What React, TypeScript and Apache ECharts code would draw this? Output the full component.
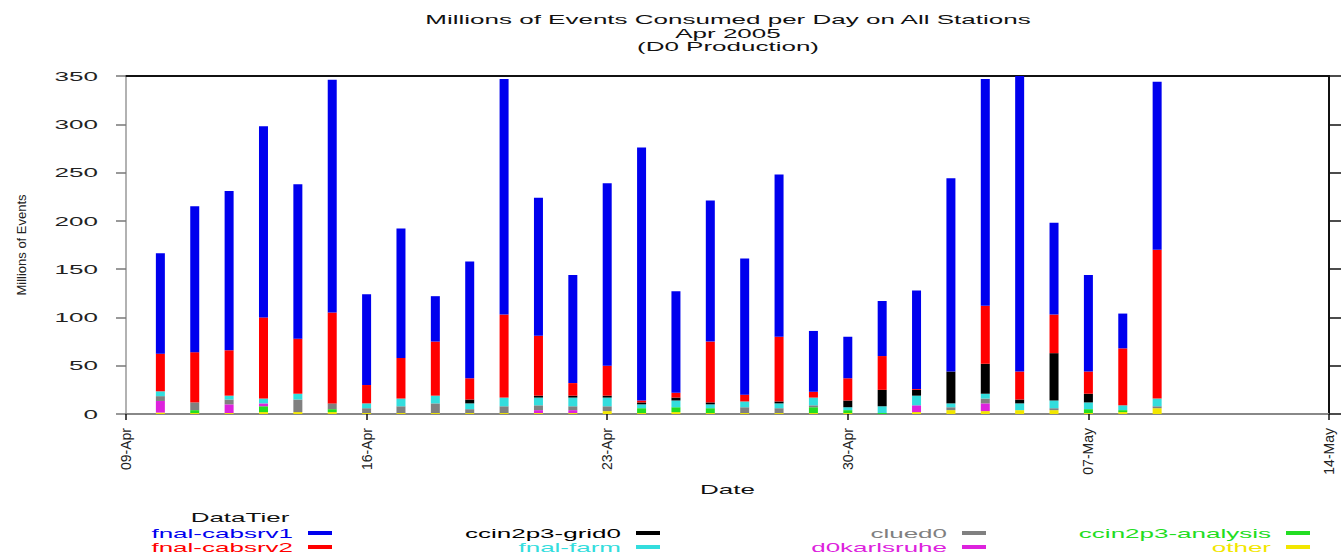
import React, { useEffect, useRef } from "react";
import * as echarts from "echarts";

const START_DATE = "2005-04-09";
const END_DATE = "2005-05-14";
const tickLabels = ["09-Apr", "16-Apr", "23-Apr", "30-Apr", "07-May", "14-May"];
const dates = [
  "2005-04-10", "2005-04-11", "2005-04-12", "2005-04-13", "2005-04-14", "2005-04-15",
  "2005-04-16", "2005-04-17", "2005-04-18", "2005-04-19", "2005-04-20", "2005-04-21",
  "2005-04-22", "2005-04-23", "2005-04-24", "2005-04-25", "2005-04-26", "2005-04-27",
  "2005-04-28", "2005-04-29", "2005-04-30", "2005-05-01", "2005-05-02", "2005-05-03",
  "2005-05-04", "2005-05-05", "2005-05-06", "2005-05-07", "2005-05-08", "2005-05-09",
];

const other = [1.5, 1, 1, 2, 2, 2, 1, 1, 1, 1, 1, 1, 1, 3, 1, 2, 1, 1, 1, 1, 1, 0, 2, 4, 3, 4, 4, 1, 2, 6];
const ccin2p3Analysis = [0, 3, 0, 6, 0, 3, 0, 0, 0, 0, 0, 0, 0, 0, 5, 5, 5, 0, 0, 6, 3, 1, 0, 0, 0, 0, 0, 4, 2, 0];
const d0karlsruhe = [12, 0, 9, 3, 0, 0, 0, 0, 0, 0, 0, 3, 3, 0, 0, 0, 0, 0, 0, 0, 0, 0, 7, 0, 8, 0, 0, 0, 0, 0];
const clued0 = [5, 8, 5, 0, 13, 6, 5, 7, 10, 4, 7, 5, 4, 5, 0, 0, 0, 6, 5, 2, 0, 0, 0, 3, 5, 0, 2, 0, 0, 2];
const fnalFarm = [5, 0, 4, 5, 6, 0, 5, 8, 8, 6, 9, 8, 9, 9, 4, 7, 4, 6, 5, 8, 3, 7, 10, 4, 5, 7, 8, 7, 5, 8];
const ccin2p3Grid0 = [0, 0, 0, 0, 0, 0, 0, 0, 0, 4, 0, 2, 2, 2, 2, 3, 2, 0, 2, 0, 7, 17, 6, 33, 31, 4, 49, 9, 0, 0];
const fnalCabsrv2 = [39, 52, 47, 84, 57, 94, 19, 42, 56, 22, 86, 62, 13, 31, 2, 5, 63, 7, 67, 6, 23, 35, 1, 0, 60, 29, 40, 23, 59, 154];
const fnalCabsrv1 = [104, 151, 165, 198, 160, 241, 94, 134, 47, 121, 244, 143, 112, 189, 262, 105, 146, 141, 168, 63, 43, 57, 102, 200, 235, 306, 95, 100, 36, 174];

const yTicks = [0, 50, 100, 150, 200, 250, 300, 350];

// stacking order: bottom -> top
const seriesDefs = [
  { name: "other", color: "#f2e600", values: other },
  { name: "ccin2p3-analysis", color: "#22dd22", values: ccin2p3Analysis },
  { name: "d0karlsruhe", color: "#dd22dd", values: d0karlsruhe },
  { name: "clued0", color: "#808080", values: clued0 },
  { name: "fnal-farm", color: "#33dddd", values: fnalFarm },
  { name: "ccin2p3-grid0", color: "#000000", values: ccin2p3Grid0 },
  { name: "fnal-cabsrv2", color: "#ff0000", values: fnalCabsrv2 },
  { name: "fnal-cabsrv1", color: "#0000ee", values: fnalCabsrv1 },
];

const legendColumns = [
  ["fnal-cabsrv1", "fnal-cabsrv2"],
  ["ccin2p3-grid0", "fnal-farm"],
  ["clued0", "d0karlsruhe"],
  ["ccin2p3-analysis", "other"],
];

const FONT = "'Liberation Sans', Arial, Helvetica, sans-serif";
const DAY = 86400000;

// every day of the axis range (the category axis), from START_DATE to END_DATE
const axisDays: string[] = [];
for (let t = Date.parse(START_DATE); t <= Date.parse(END_DATE); t += DAY) {
  axisDays.push(new Date(t).toISOString().slice(0, 10));
}

const TITLE_LINES = ["Millions of Events Consumed per Day on All Stations", "Apr 2005", "(D0 Production)"];
const STRETCH = new Set<string>([
  ...TITLE_LINES,
  ...yTicks.map(String),
  ...seriesDefs.map((s) => s.name),
  "DataTier",
  "Date",
]);
const LEGEND_NAMES = new Set<string>(seriesDefs.map((s) => s.name));

function stretchTexts(root: HTMLElement | null) {
  if (!root) return;
  root.querySelectorAll("text").forEach((t) => {
    const content = (t.textContent || "").trim();
    if (!STRETCH.has(content)) return;
    const cur = t.getAttribute("transform") || "";
    const anyT = t as any;
    if (anyT.__stretched && anyT.__stretched === cur) return;
    const ax = parseFloat(t.getAttribute("x") || "0") || 0;
    const dx = LEGEND_NAMES.has(content) ? -10 : 0;
    const next = `${cur} translate(${ax + dx} 0) scale(2 1) translate(${-ax} 0)`.trim();
    t.setAttribute("transform", next);
    anyT.__stretched = next;
  });
}

export default function App() {
  const ref = useRef<HTMLDivElement>(null);

  useEffect(() => {
    if (!ref.current) return;
    const chart = echarts.init(ref.current, undefined, { renderer: "svg" });
    const colorOf: Record<string, string> = {};
    seriesDefs.forEach((s) => (colorOf[s.name] = s.color));

    const legendRights = [1010, 682, 356, 32];
    const labelFor = (day: string) => {
      const idx = axisDays.indexOf(day);
      return idx % 7 === 0 ? tickLabels[idx / 7] ?? "" : "";
    };

    const option: any = {
      animation: false,
      backgroundColor: "#ffffff",
      textStyle: { fontFamily: FONT },
      grid: { left: 126, right: 13, top: 76, bottom: 141, containLabel: false },
      graphic: [
        {
          type: "text",
          x: 728,
          y: 19,
          style: { text: TITLE_LINES[0], font: `13px ${FONT}`, fill: "#111", textAlign: "center", textVerticalAlign: "middle" },
        },
        {
          type: "text",
          x: 728,
          y: 33,
          style: { text: TITLE_LINES[1], font: `13px ${FONT}`, fill: "#111", textAlign: "center", textVerticalAlign: "middle" },
        },
        {
          type: "text",
          x: 728,
          y: 46,
          style: { text: TITLE_LINES[2], font: `13px ${FONT}`, fill: "#111", textAlign: "center", textVerticalAlign: "middle" },
        },
        {
          type: "text",
          x: 240,
          y: 517,
          style: { text: "DataTier", font: `13px ${FONT}`, fill: "#111", textAlign: "center", textVerticalAlign: "middle" },
        },
      ],
      legend: legendColumns.map((col, i) => ({
        orient: "vertical",
        align: "right",
        right: legendRights[i],
        top: 526,
        padding: 0,
        itemGap: 0,
        itemWidth: 24,
        itemHeight: 4,
        icon: "rect",
        selectedMode: false,
        textStyle: { fontSize: 13, lineHeight: 14, fontFamily: FONT },
        data: col.map((name) => ({ name, textStyle: { color: colorOf[name] }, itemStyle: { color: colorOf[name] } })),
      })),
      xAxis: [
        {
          type: "category",
          data: axisDays,
          boundaryGap: false,
          position: "bottom",
          name: "Date",
          nameLocation: "middle",
          nameGap: 69,
          nameTextStyle: { fontSize: 13, color: "#111", fontFamily: FONT },
          axisLine: { show: true, lineStyle: { color: "#888", width: 2 } },
          axisTick: { show: true, interval: 6, length: 6, lineStyle: { color: "#111", width: 1.5 } },
          splitLine: { show: false },
          axisLabel: {
            interval: 6,
            rotate: 90,
            margin: 14,
            fontSize: 14,
            color: "#222",
            fontFamily: FONT,
            formatter: (v: string) => labelFor(v),
          },
        },
        {
          type: "category",
          data: axisDays,
          boundaryGap: false,
          position: "top",
          axisLine: { show: true, onZero: false, lineStyle: { color: "#111", width: 2 } },
          axisTick: { show: false },
          axisLabel: { show: false },
          splitLine: { show: false },
        },
      ],
      yAxis: [
        {
          type: "value",
          min: 0,
          max: 350,
          interval: 50,
          position: "left",
          name: "Millions of Events",
          nameLocation: "middle",
          nameGap: 98,
          nameTextStyle: { fontSize: 13, color: "#222", fontFamily: "'Liberation Sans Narrow', 'Liberation Sans', Arial, sans-serif" },
          axisLine: { show: true, lineStyle: { color: "#999", width: 1.5 } },
          axisTick: { show: true, length: 10, lineStyle: { color: "#777", width: 1.5 } },
          splitLine: { show: false },
          axisLabel: { margin: 28, fontSize: 13, color: "#222", fontFamily: FONT },
        },
        {
          type: "value",
          min: 0,
          max: 350,
          interval: 50,
          position: "right",
          axisLine: { show: true, onZero: false, lineStyle: { color: "#111", width: 2 } },
          axisTick: { show: true, length: 12, lineStyle: { color: "#111", width: 1.5 } },
          axisLabel: { show: false },
          splitLine: { show: false },
        },
      ],
      series: seriesDefs.map((s) => ({
        name: s.name,
        type: "bar",
        stack: "total",
        xAxisIndex: 0,
        yAxisIndex: 0,
        barWidth: 9,
        itemStyle: { color: s.color },
        emphasis: { disabled: true },
        data: axisDays.map((day) => {
          const i = dates.indexOf(day);
          return i >= 0 ? s.values[i] : null;
        }),
      })),
    };

    const apply = () => stretchTexts(ref.current);
    chart.on("finished", apply);
    chart.setOption(option);
    apply();
    const t1 = setTimeout(apply, 0);
    const t2 = setTimeout(apply, 200);

    return () => {
      clearTimeout(t1);
      clearTimeout(t2);
      chart.dispose();
    };
  }, []);

  return (
    <div
      ref={ref}
      style={{ position: "fixed", left: 0, top: 0, width: 1342, height: 555, background: "#fff" }}
    />
  );
}
